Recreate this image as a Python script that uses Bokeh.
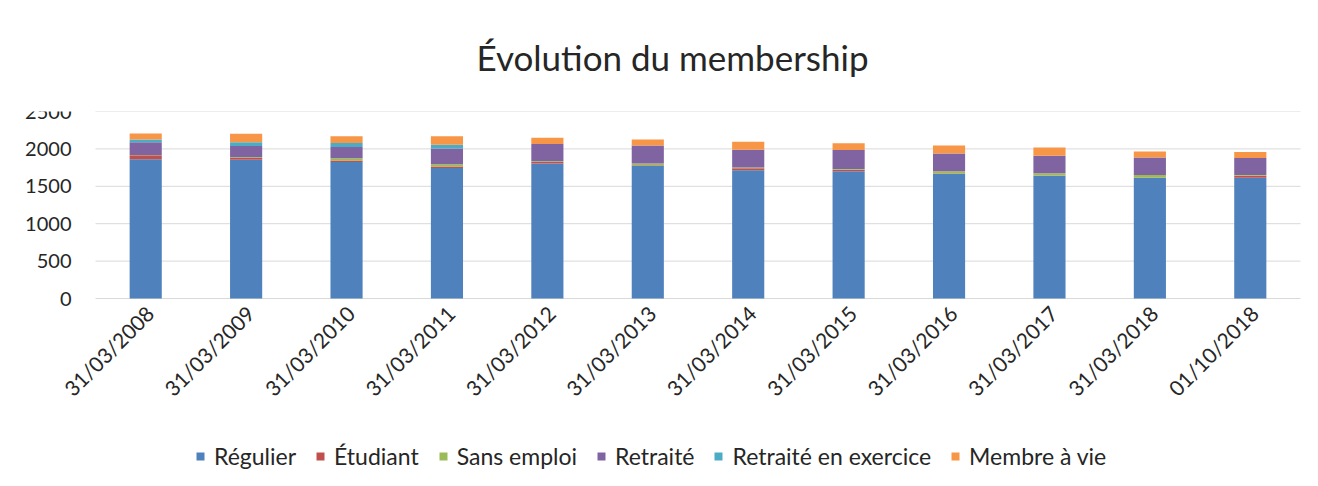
from bokeh.plotting import figure
from bokeh.models import Legend, LegendItem, Range1d
from bokeh.core.properties import value
from bokeh.embed import file_html
from bokeh.resources import INLINE
import math

dates = ["31/03/2008", "31/03/2009", "31/03/2010", "31/03/2011", "31/03/2012", "31/03/2013",
         "31/03/2014", "31/03/2015", "31/03/2016", "31/03/2017", "31/03/2018", "01/10/2018"]
regulier = [1860, 1855, 1825, 1745, 1805, 1775, 1715, 1700, 1665, 1640, 1610, 1615]
etudiant = [55, 25, 20, 20, 20, 5, 25, 20, 5, 5, 5, 25]
sans_emploi = [5, 8, 30, 30, 10, 25, 10, 10, 30, 30, 35, 10]
retraite = [170, 150, 150, 210, 230, 240, 240, 255, 240, 235, 235, 230]
retraite_exercice = [35, 50, 55, 50, 0, 0, 0, 0, 0, 0, 0, 0]
membre_vie = [80, 115, 90, 115, 85, 80, 105, 90, 105, 110, 80, 80]
y_ticks = [0, 500, 1000, 1500, 2000, 2500]
y_labels = [str(v) for v in y_ticks]

series_names = ["Régulier", "Étudiant", "Sans emploi", "Retraité", "Retraité en exercice", "Membre à vie"]
colors = ["#4F81BD", "#C0504D", "#9BBB59", "#8064A2", "#4BACC6", "#F79646"]
keys = ["regulier", "etudiant", "sans_emploi", "retraite", "retraite_exercice", "membre_vie"]

n = len(dates)
x_pos = [i + 0.5 for i in range(n)]

data = dict(x=x_pos, dates=dates, regulier=regulier, etudiant=etudiant, sans_emploi=sans_emploi,
            retraite=retraite, retraite_exercice=retraite_exercice, membre_vie=membre_vie)

FONT = "Lato"
Y_MAX = 2500
PX_PER_UNIT_Y = 187 / Y_MAX
Y_MIN = -182 / PX_PER_UNIT_Y
PX_PER_CAT = 1205 / n
X_MIN = -(95 - 15) / PX_PER_CAT
X_MAX = n + (1310 - 1300) / PX_PER_CAT

p = figure(x_range=Range1d(X_MIN, X_MAX), y_range=Range1d(Y_MIN, Y_MAX),
           frame_width=1295, frame_height=369, output_backend="svg", toolbar_location=None,
           min_border_left=15, min_border_right=0, min_border_top=109, min_border_bottom=4,
           title="Évolution du membership")

# horizontal gridlines over the category area
p.segment(x0=0, x1=n, y0=y_ticks, y1=y_ticks, line_color="#d9d9d9", line_width=1)

renderers = p.vbar_stack(keys, x="x", width=0.32, color=colors, source=data, line_color=None)

# y tick labels
p.text(x=0, y=y_ticks, text=y_labels, text_align="right", text_baseline="middle",
       x_offset=-24, text_font=value(FONT), text_font_size="20px", text_color="#262626")

# rotated date labels
p.text(x=x_pos, y=0, text=dates, angle=math.pi / 4, text_align="right", text_baseline="middle",
       x_offset=4, y_offset=11, text_font=value(FONT), text_font_size="21px", text_color="#262626")

p.title.align = "left"
p.title.offset = 461
p.title.text_font = FONT
p.title.text_font_size = "35px"
p.title.text_font_style = "normal"
p.title.text_color = "#262626"
p.title.standoff = 67

p.outline_line_color = None
p.xgrid.grid_line_color = None
p.ygrid.grid_line_color = None
p.xaxis.visible = False
p.yaxis.visible = False

items = [LegendItem(label=nm, renderers=[r]) for nm, r in zip(series_names, renderers)]
legend = Legend(items=items, orientation="horizontal", location=(180, 10),
                label_text_font=FONT, label_text_font_size="23px", label_text_color="#262626",
                glyph_width=10, glyph_height=10, label_standoff=9, spacing=19,
                border_line_color=None, background_fill_alpha=0, margin=0, padding=0)
p.add_layout(legend, "center")

open("out.html", "w").write(file_html(p, INLINE))
